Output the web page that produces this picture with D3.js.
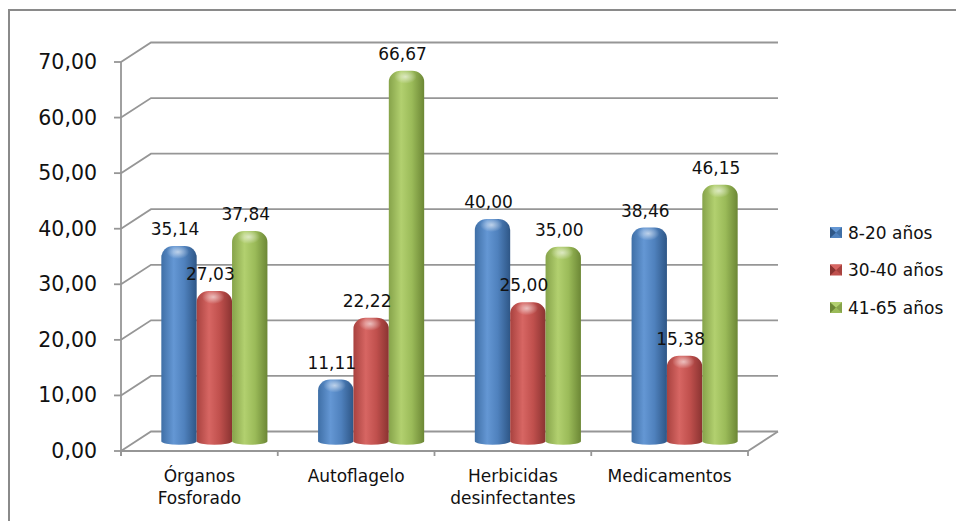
<!DOCTYPE html>
<html>
<head>
<meta charset="utf-8">
<script src="https://cdn.jsdelivr.net/npm/d3@7"></script>
<style>
  html, body { margin: 0; padding: 0; background: #fff; }
  svg { display: block; }
  text { font-family: "DejaVu Sans", sans-serif; fill: #111; }
</style>
</head>
<body>
<svg id="chart" width="956" height="521"></svg>
<script>
// Grupos de sustancias (eje X) y grupos de edad (series)
const categories = [["Órganos", "Fosforado"], ["Autoflagelo"], ["Herbicidas", "desinfectantes"], ["Medicamentos"]];
const series = ["8-20 años", "30-40 años", "41-65 años"];
const values8_20 = [35.14, 11.11, 40.00, 38.46];
const values30_40 = [27.03, 22.22, 25.00, 15.38];
const values41_65 = [37.84, 66.67, 35.00, 46.15];
const yTicks = [0, 10, 20, 30, 40, 50, 60, 70];
const seriesValues = [values8_20, values30_40, values41_65];

const colors = [
  { edge: "#3f6fa6", light: "#6497d4", mid: "#4f81bd", dark: "#2e5686" },
  { edge: "#a8423f", light: "#d76663", mid: "#c0504d", dark: "#8a3331" },
  { edge: "#86a34a", light: "#b2d06f", mid: "#9bbb59", dark: "#6c8735" }
];

const svg = d3.select("#chart");
const fmt = v => v.toFixed(2).replace(".", ",");

// Profundidad de la pared del fondo y posición media de los cilindros
const depthX = 30, depthY = -19.5;
const barDX = depthX / 2, barDY = depthY / 2;

const x0 = d3.scaleBand().domain(d3.range(categories.length)).range([121, 748]).paddingInner(0).paddingOuter(0);
const x1 = d3.scaleBand().domain(d3.range(series.length)).range([0, x0.bandwidth()]).paddingInner(0).paddingOuter(0.716);
const y = d3.scaleLinear().domain([0, 70]).range([451, 62]);

// Marco exterior
svg.append("rect").attr("x", 9).attr("y", 10).attr("width", 980).attr("height", 540)
  .attr("fill", "none").attr("stroke", "#8a8a8a").attr("stroke-width", 2);

// Gradientes de los cilindros
const defs = svg.append("defs");
colors.forEach((c, i) => {
  const g = defs.append("linearGradient").attr("id", "body" + i)
    .attr("x1", 0).attr("x2", 1).attr("y1", 0).attr("y2", 0);
  g.append("stop").attr("offset", "0%").attr("stop-color", c.edge);
  g.append("stop").attr("offset", "35%").attr("stop-color", c.light);
  g.append("stop").attr("offset", "65%").attr("stop-color", c.mid);
  g.append("stop").attr("offset", "100%").attr("stop-color", c.dark);
});
const hl = defs.append("radialGradient").attr("id", "topHL")
  .attr("cx", 0.5).attr("cy", 0.5).attr("r", 0.5);
hl.append("stop").attr("offset", "0%").attr("stop-color", "#fff").attr("stop-opacity", 0.6);
hl.append("stop").attr("offset", "100%").attr("stop-color", "#fff").attr("stop-opacity", 0);

const grid = svg.append("g").attr("stroke", "#969696").attr("stroke-width", 1.8).attr("fill", "none");
const backLeft = x0.range()[0] + depthX;
const backRight = x0.range()[1] + depthX;

// Líneas de división: pared izquierda + pared del fondo
yTicks.forEach(t => {
  const yy = y(t);
  grid.append("path").attr("d", `M${x0.range()[0]},${yy} L${backLeft},${yy + depthY} L${backRight},${yy + depthY}`);
});
// Piso: borde frontal y lateral derecho
grid.append("path").attr("d",
  `M${x0.range()[0]},${y(0)} L${x0.range()[1]},${y(0)} L${backRight},${y(0) + depthY}`);
// Eje vertical y marcas
grid.append("line").attr("x1", x0.range()[0]).attr("x2", x0.range()[0]).attr("y1", y(70)).attr("y2", y(0) + 5);
yTicks.forEach(t => {
  grid.append("line").attr("x1", x0.range()[0] - 7).attr("x2", x0.range()[0]).attr("y1", y(t)).attr("y2", y(t));
});
d3.range(categories.length + 1).forEach(i => {
  const xx = x0.range()[0] + i * x0.step();
  grid.append("line").attr("x1", xx).attr("x2", xx).attr("y1", y(0)).attr("y2", y(0) + 5);
});

// Etiquetas del eje Y
svg.append("g").selectAll("text").data(yTicks).join("text")
  .attr("x", 97).attr("y", d => y(d) + 7)
  .attr("text-anchor", "end").attr("font-size", 20.5)
  .text(fmt);

// Etiquetas de categorías
const catG = svg.append("g");
categories.forEach((lines, i) => {
  const cx = x0(i) + x0.bandwidth() / 2;
  lines.forEach((l, j) => {
    catG.append("text").attr("x", cx).attr("y", 482 + j * 22)
      .attr("text-anchor", "middle").attr("font-size", 17).text(l);
  });
});

// Cilindros con tapa redondeada
function cylinderPath(xa, xb, yt, yb) {
  const w = xb - xa;
  const rx = Math.min(12, w / 2), ry = Math.min(11, (yb - yt) / 2);
  return `M${xa},${yb} L${xa},${yt + ry} A${rx},${ry} 0 0 1 ${xa + rx},${yt}` +
    ` L${xb - rx},${yt} A${rx},${ry} 0 0 1 ${xb},${yt + ry} L${xb},${yb}` +
    ` A${w / 2},3.5 0 0 1 ${xa},${yb} Z`;
}

const bars = svg.append("g");
const labels = svg.append("g");
categories.forEach((cat, i) => {
  series.forEach((s, k) => {
    const v = seriesValues[k][i];
    const xa = x0(i) + x1(k) + barDX;
    const xb = xa + x1.bandwidth();
    const yt = y(v) + barDY;
    const yb = y(0) + barDY;
    bars.append("path").attr("d", cylinderPath(xa, xb, yt, yb)).attr("fill", `url(#body${k})`);
    bars.append("ellipse").attr("cx", xa + x1.bandwidth() * 0.47).attr("cy", yt + 6)
      .attr("rx", x1.bandwidth() * 0.32).attr("ry", 7).attr("fill", "url(#topHL)");
    labels.append("text").attr("x", (xa + xb) / 2 - 4).attr("y", yt - 11)
      .attr("text-anchor", "middle").attr("font-size", 17).text(fmt(v));
  });
});

// Leyenda
const leg = svg.append("g");
series.forEach((s, k) => {
  const ly = 232.5 + k * 37.5;
  const sx = 830, sy = ly - 5.5, sw = 12, sh = 11;
  const c = colors[k];
  const cxm = sx + sw / 2, cym = sy + sh / 2;
  leg.append("rect").attr("x", sx).attr("y", sy).attr("width", sw).attr("height", sh).attr("fill", c.mid);
  leg.append("path").attr("d", `M${sx},${sy} L${cxm},${cym} L${sx},${sy + sh} Z`).attr("fill", c.dark);
  leg.append("path").attr("d", `M${sx + sw},${sy} L${cxm},${cym} L${sx + sw},${sy + sh} Z`).attr("fill", c.edge);
  leg.append("path").attr("d", `M${sx},${sy} L${cxm},${cym} L${sx + sw},${sy} Z`).attr("fill", c.light);
  leg.append("text").attr("x", 848).attr("y", ly + 6).attr("font-size", 17).text(s);
});
</script>
</body>
</html>
